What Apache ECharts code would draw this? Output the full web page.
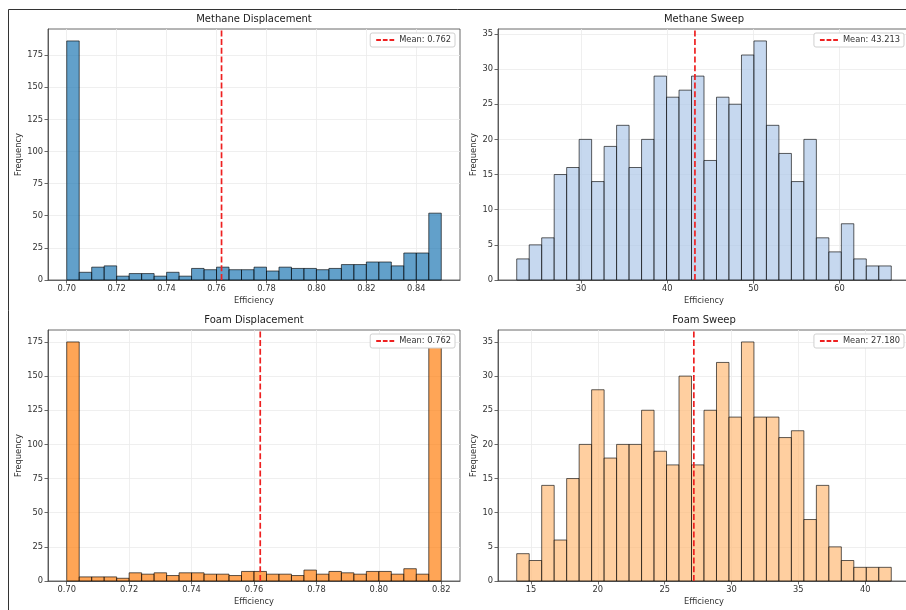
<!DOCTYPE html>
<html><head><meta charset="utf-8">
<script src="https://cdn.jsdelivr.net/npm/echarts@6/dist/echarts.min.js"></script>
<style>html,body{margin:0;padding:0;background:#fff}#c{width:906px;height:610px}</style>
</head><body><div id="c"></div>
<script>
// ---- data ----
const titles = ['Methane Displacement', 'Methane Sweep', 'Foam Displacement', 'Foam Sweep'];
const xLabel = 'Efficiency';
const yLabel = 'Frequency';

const methaneDispCounts = [186,6,10,11,3,5,5,3,6,3,9,8,10,8,8,10,7,10,9,9,8,9,12,12,14,14,11,21,21,52];
const methaneDispRange = [0.70, 0.85];
const methaneDispMean = 0.762;

const methaneSweepCounts = [3,5,6,15,16,20,14,19,22,16,20,29,26,27,29,17,26,25,32,34,22,18,14,20,6,4,8,3,2,2];
const methaneSweepRange = [22.53, 66.0];
const methaneSweepMean = 43.213;

const foamDispCounts = [175,3,3,3,2,6,5,6,4,6,6,5,5,4,7,7,5,5,4,8,5,7,6,5,7,7,5,9,5,175];
const foamDispRange = [0.70, 0.82];
const foamDispMean = 0.762;

const foamSweepCounts = [4,3,14,6,15,20,28,18,20,20,25,19,17,30,17,25,32,24,35,24,24,21,22,9,14,5,3,2,2,2];
const foamSweepRange = [13.93, 41.95];
const foamSweepMean = 27.180;

const methaneDispXTicks = [0.70,0.72,0.74,0.76,0.78,0.80,0.82,0.84];
const methaneSweepXTicks = [30,40,50,60];
const foamDispXTicks = [0.70,0.72,0.74,0.76,0.78,0.80,0.82];
const foamSweepXTicks = [15,20,25,30,35,40];
const dispYTicks = [0,25,50,75,100,125,150,175];
const sweepYTicks = [0,5,10,15,20,25,30,35];

// ---- layout / style ----
const FONT = 'DejaVu Sans';
const panels = [
  {counts: methaneDispCounts, range: methaneDispRange, mean: methaneDispMean, xt: methaneDispXTicks, yt: dispYTicks,
   dec: 2, fill: 'rgba(31,119,180,0.7)', box: {left: 48, top: 29}, yGap: 25, legendRight: 451, legendTop: 33},
  {counts: methaneSweepCounts, range: methaneSweepRange, mean: methaneSweepMean, xt: methaneSweepXTicks, yt: sweepYTicks,
   dec: 0, fill: 'rgba(174,199,232,0.7)', box: {left: 498, top: 29}, yGap: 20, legendRight: 2, legendTop: 33},
  {counts: foamDispCounts, range: foamDispRange, mean: foamDispMean, xt: foamDispXTicks, yt: dispYTicks,
   dec: 2, fill: 'rgba(255,127,14,0.7)', box: {left: 48, top: 330}, yGap: 25, legendRight: 451, legendTop: 334},
  {counts: foamSweepCounts, range: foamSweepRange, mean: foamSweepMean, xt: foamSweepXTicks, yt: sweepYTicks,
   dec: 0, fill: 'rgba(255,187,120,0.7)', box: {left: 498, top: 330}, yGap: 20, legendRight: 2, legendTop: 334}
];
const W = 412, H = 251;
const RED = '#ee2020';

const option = {
  animation: false,
  backgroundColor: '#fff',
  grid: [], xAxis: [], yAxis: [], series: [], legend: [],
  graphic: [
    {type: 'rect', silent: true, z: 0, shape: {x: 8.5, y: 9.5, width: 1200, height: 1200},
     style: {fill: 'none', stroke: '#333', lineWidth: 1}}
  ]
};

panels.forEach((p, i) => {
  const n = p.counts.length;
  const bw = (p.range[1] - p.range[0]) / n;
  const span = p.range[1] - p.range[0];
  const xmin = p.range[0] - 0.05 * span, xmax = p.range[1] + 0.05 * span;
  const ymax = Math.max(...p.counts) * 1.05;
  const data = p.counts.map((c, k) => [p.range[0] + k * bw, p.range[0] + (k + 1) * bw, c]);
  const label = 'Mean: ' + p.mean.toFixed(3);

  option.grid.push({left: p.box.left, top: p.box.top, width: W, height: H, show: true,
    borderColor: '#444', borderWidth: 0.8, backgroundColor: 'transparent', containLabel: false,
    outerBoundsMode: 'none'});

  option.xAxis.push({
    type: 'value', gridIndex: i, min: xmin, max: xmax,
    name: xLabel, nameLocation: 'middle', nameGap: 17,
    nameTextStyle: {fontFamily: FONT, fontSize: 8.3, color: '#333'},
    axisLine: {show: true, onZero: false, lineStyle: {color: '#444', width: 0.8}},
    axisTick: {show: true, customValues: p.xt, length: 3.5, lineStyle: {color: '#444', width: 0.8}},
    axisLabel: {customValues: p.xt, margin: 5, fontFamily: FONT, fontSize: 8.3, color: '#333',
      formatter: v => Number(v).toFixed(p.dec)},
    splitLine: {show: true, lineStyle: {color: '#ebebeb', width: 0.8}}
  });
  option.yAxis.push({
    type: 'value', gridIndex: i, min: 0, max: ymax,
    name: yLabel, nameLocation: 'middle', nameGap: p.yGap,
    nameTextStyle: {fontFamily: FONT, fontSize: 8.3, color: '#333'},
    axisLine: {show: true, lineStyle: {color: '#444', width: 0.8}},
    axisTick: {show: true, customValues: p.yt, length: 3.5, lineStyle: {color: '#444', width: 0.8}},
    axisLabel: {customValues: p.yt, margin: 5, fontFamily: FONT, fontSize: 8.3, color: '#333',
      formatter: v => String(Math.round(v))},
    splitLine: {show: true, lineStyle: {color: '#ebebeb', width: 0.8}}
  });

  option.series.push({
    type: 'custom', xAxisIndex: i, yAxisIndex: i, silent: true, z: 2,
    encode: {x: [0, 1], y: 2},
    data: data,
    renderItem: (params, api) => {
      const a = api.coord([api.value(0), 0]);
      const b = api.coord([api.value(1), api.value(2)]);
      return {type: 'rect', shape: {x: a[0], y: b[1], width: b[0] - a[0], height: a[1] - b[1]},
        style: {fill: p.fill, stroke: 'rgba(0,0,0,0.7)', lineWidth: 0.9}};
    }
  });
  option.series.push({
    type: 'line', name: label, xAxisIndex: i, yAxisIndex: i, silent: true, z: 5,
    symbol: 'none', data: [[p.mean, 0], [p.mean, ymax]],
    itemStyle: {color: RED},
    lineStyle: {color: RED, width: 1.7, type: [6, 2.7]}
  });
  option.legend.push({
    data: [{name: label, icon: 'path://M0,0h5v2h-5z M7,0h5v2h-5z M14,0h5v2h-5z', itemStyle: {color: RED}}],
    right: p.legendRight, top: p.legendTop, selectedMode: false,
    backgroundColor: '#fff', borderColor: '#d0d0d0', borderWidth: 1, borderRadius: 2,
    padding: [3, 4, 3, 6], itemWidth: 18, itemHeight: 2,
    textStyle: {fontFamily: FONT, fontSize: 8.3, color: '#333'}
  });
  option.graphic.push({
    type: 'text', silent: true, x: p.box.left + W / 2, y: p.box.top - 9.5,
    style: {text: titles[i], align: 'center', verticalAlign: 'middle',
      font: '10px "' + FONT + '"', fill: '#222'}
  });
});

const chart = echarts.init(document.getElementById('c'), null, {renderer: 'canvas'});
chart.setOption(option);
</script>
</body></html>
